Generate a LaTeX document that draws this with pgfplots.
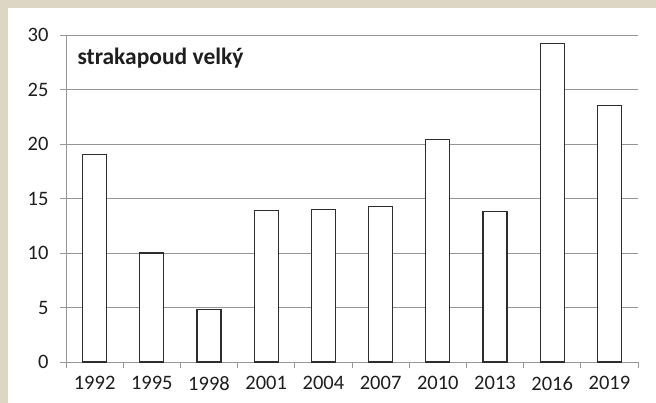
\documentclass[border=0pt]{standalone}
\usepackage{pgfplots}
\pgfplotsset{compat=1.18}
\usepackage{fontspec}
\setmainfont{Carlito}
\definecolor{beige}{RGB}{221,214,196}
\definecolor{gridgray}{RGB}{150,150,150}
\definecolor{txt}{RGB}{30,30,30}
\definecolor{barline}{RGB}{45,45,45}
\begin{document}
\begin{tikzpicture}
\fill[beige] (0pt,0pt) rectangle (656pt,403pt);
\fill[white] (8pt,0pt) rectangle (656pt,395pt);
\useasboundingbox (0pt,0pt) rectangle (656pt,403pt);
\begin{axis}[
	at={(66pt,41pt)}, anchor=south west,
	scale only axis,
	width=572pt, height=327pt,
	xmin=-0.5, xmax=9.5,
	ymin=0, ymax=30,
	axis x line*=bottom,
	axis y line*=left,
	axis line style={gridgray, line width=0.8pt},
	ytick={0,5,...,30},
	ymajorgrids,
	grid style={gridgray, line width=0.8pt},
	xtick={0,...,9},
	xticklabels={1992,1995,1998,2001,2004,2007,2010,2013,2016,2019},
	major x tick style={draw=none},
	minor xtick={-0.5,0.5,...,9.5},
	minor x tick style={gridgray, line width=0.8pt},
	minor tick length=6pt,
	xtick align=outside,
	ytick align=outside,
	major tick length=6pt,
	ytick style={gridgray, line width=0.8pt},
	tick label style={font=\fontsize{20.5}{24}\selectfont, text=txt},
	yticklabel style={xshift=-8pt},
	xticklabel style={yshift=-5pt},
	/pgf/number format/assume math mode=true,
	ybar, bar width=24pt,
	clip=false,
]
\addplot[fill=white, draw=barline, line width=1.2pt, bar shift=0pt] coordinates {
	(0,19) (1,10) (2,4.8) (3,13.9) (4,14.0) (5,14.3) (6,20.4) (7,13.8) (8,29.2) (9,23.5)
};
\node[anchor=base west, font=\fontsize{23.5}{27}\selectfont\bfseries, text=txt]
	at (axis description cs:0,0) [xshift=8pt, yshift=297pt] {strakapoud velký};
\end{axis}
\end{tikzpicture}
\end{document}
